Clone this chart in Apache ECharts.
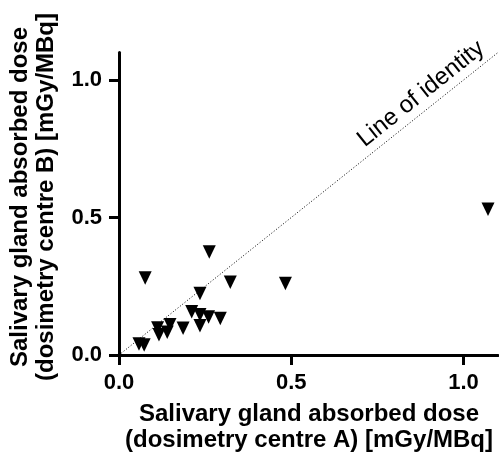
<!DOCTYPE html>
<html>
<head>
<meta charset="utf-8">
<script src="https://cdn.jsdelivr.net/npm/echarts@6/dist/echarts.min.js"></script>
<style>
html,body{margin:0;padding:0;background:#fff;}
#chart{width:499px;height:461px;}
</style>
</head>
<body>
<div id="chart"></div>
<script>
// Data
var centreA = [0.058, 0.073, 0.076, 0.112, 0.116, 0.148, 0.140, 0.186, 0.211, 0.235, 0.235, 0.235, 0.260, 0.294, 0.262, 0.323, 0.483, 1.071];
var centreB = [0.040, 0.036, 0.280, 0.098, 0.074, 0.110, 0.083, 0.097, 0.157, 0.146, 0.106, 0.224, 0.138, 0.133, 0.375, 0.265, 0.260, 0.530];
var identityLine = [[0, 0], [1.1, 1.1]];
var tickValues = [0, 0.5, 1.0];
var xTitle = 'Salivary gland absorbed dose\n(dosimetry centre A) [mGy/MBq]';
var yTitle = 'Salivary gland absorbed dose\n(dosimetry centre B) [mGy/MBq]';
var identityLabel = 'Line of identity';

var points = centreA.map(function (a, i) { return [a, centreB[i]]; });
var FONT = '"Liberation Sans", Arial, Helvetica, sans-serif';

function axisCfg() {
  return {
    type: 'value',
    min: 0,
    max: 1.1,
    interval: 0.5,
    splitLine: { show: false },
    axisLine: { show: true, lineStyle: { color: '#000', width: 3 } },
    axisTick: { show: true, length: 10, lineStyle: { color: '#000', width: 3 }, customValues: tickValues },
    axisLabel: {
      customValues: tickValues,
      color: '#000', fontWeight: 'bold', fontSize: 22, fontFamily: FONT,
      margin: 17,
      formatter: function (v) { return v.toFixed(1); }
    }
  };
}

var chart = echarts.init(document.getElementById('chart'), null, { renderer: 'canvas' });
chart.setOption({
  animation: false,
  backgroundColor: '#fff',
  grid: { left: 119, right: 1, top: 52.5, bottom: 106, containLabel: false },
  xAxis: axisCfg(),
  yAxis: axisCfg(),
  series: [
    {
      type: 'line',
      data: identityLine,
      symbol: 'none',
      silent: true,
      lineStyle: { color: '#000', width: 1, type: [1, 2] },
      z: 1
    },
    {
      type: 'scatter',
      data: points,
      symbol: 'triangle',
      symbolRotate: 180,
      symbolSize: [13, 13.5],
      itemStyle: { color: '#000', opacity: 1 },
      z: 3
    }
  ],
  graphic: [
    {
      type: 'text', x: 309, y: 427,
      style: { text: xTitle, textAlign: 'center', textVerticalAlign: 'middle',
        font: 'bold 24px ' + FONT, lineHeight: 26, fill: '#000' }
    },
    {
      type: 'text', x: 33, y: 197, rotation: Math.PI / 2,
      style: { text: yTitle, textAlign: 'center', textVerticalAlign: 'middle',
        font: 'bold 24px ' + FONT, lineHeight: 26, fill: '#000' }
    },
    {
      type: 'text', x: 421, y: 94, rotation: Math.atan(275 / 344),
      style: { text: identityLabel, textAlign: 'center', textVerticalAlign: 'middle',
        font: '24px ' + FONT, fill: '#000' }
    }
  ]
});
</script>
</body>
</html>
